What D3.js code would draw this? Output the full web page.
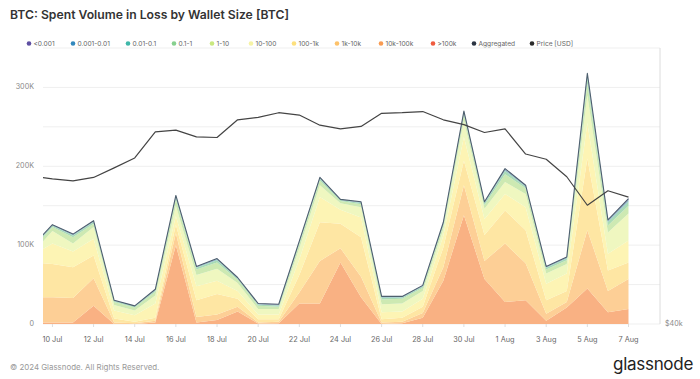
<!DOCTYPE html>
<html><head><meta charset="utf-8">
<script src="https://cdn.jsdelivr.net/npm/d3@7"></script>
<style>
html,body{margin:0;padding:0;background:#fff;}
svg{display:block;font-family:Inter,"Noto Sans",sans-serif;}
</style></head>
<body><svg id="chart" width="700" height="379"></svg>
<script>
// Dates (daily, 2024); first point lies just left of the visible window
const dates = ["2024-07-09","2024-07-10","2024-07-11","2024-07-12","2024-07-13","2024-07-14","2024-07-15","2024-07-16","2024-07-17","2024-07-18","2024-07-19","2024-07-20","2024-07-21","2024-07-22","2024-07-23","2024-07-24","2024-07-25","2024-07-26","2024-07-27","2024-07-28","2024-07-29","2024-07-30","2024-07-31","2024-08-01","2024-08-02","2024-08-03","2024-08-04","2024-08-05","2024-08-06","2024-08-07"];

// Spent volume in loss, thousand BTC, per wallet size cohort
const vol_gt100k   = [0,0,0,0,0,0,0,0,0,0,0,0,0,0,0,0,0,0,0,0,0,0,0,0,0,0,0,0,0,0];
const vol_10k_100k = [2,2,2,23,0,0,2,100,2,5,16,0.5,1,26,26,78,34,0,1,8,55,138,57,28,30,4,21,45,15,19];
const vol_1k_10k   = [32,32,31,35,2,1,2,15,7,7,6,1.5,2,14,54,18,26,2,2,6,17,38,23,74,47,9,7,74,27,38];
const vol_100_1k   = [44,42,39,29,5,2,4,11,21,26,10,4,3,22,49,31,50,4,5,8,25,31,33,42,42,17,14,91,26,21];
const vol_10_100   = [9,26,20,21,10,8,18,11,18,17,10,6,6,20,32,18,25,9,8,10,15,30,20,21,29,21,22,45,21,28];
const vol_1_10     = [2,16,10,15,7,6,10,13,14,15,10,7,7,14,15,8,13,10,10,10,8,21,13,15,17,13,12,35,27,34];
const vol_01_1     = [6,5,8,4,4,4,5,8,7,8,4,4,3,5,6,3,4,6,6,4,5,7,5,10,7,5,5,15,9,10];
const vol_001_01   = [1.6,1.6,2.2,2.2,1.1,1.1,1.6,2.8,2.2,2.8,1.6,1.6,1.6,2.2,2.2,1.1,1.6,2.2,1.6,1.6,2.2,2.8,2.2,3.9,2.2,2.2,2.2,7.2,3.9,5.0];
const vol_0001_001 = [0.9,0.9,1.2,1.2,0.6,0.6,0.9,1.5,1.2,1.5,0.9,0.9,0.9,1.2,1.2,0.6,0.9,1.2,0.9,0.9,1.2,1.5,1.2,2.1,1.2,1.2,1.2,3.9,2.1,2.7];
const vol_lt0001   = [0.5,0.5,0.6,0.6,0.3,0.3,0.5,0.7,0.6,0.7,0.5,0.5,0.5,0.6,0.6,0.3,0.5,0.6,0.5,0.5,0.6,0.7,0.6,1.0,0.6,0.6,0.6,1.9,1.0,1.3];

// BTC price, thousand USD
const price = [58.0,57.6,57.3,57.8,59.2,60.7,64.8,65.1,64.0,63.9,66.8,67.2,68.0,67.6,65.9,65.3,65.7,67.9,68.0,68.2,66.8,66.0,64.7,65.3,61.3,60.5,57.9,53.9,55.9,55.0];

// Series names (legend order) and colours
const seriesNames = ["<0.001","0.001-0.01","0.01-0.1","0.1-1","1-10","10-100","100-1k","1k-10k","10k-100k",">100k"];
const legendNames = seriesNames.concat(["Aggregated","Price [USD]"]);
const legendColors = ["#5e4fa2","#3288bd","#3fb7a9","#86d08e","#c9e87f","#f6f3a5","#fde07d","#fdc26a","#f99b52","#ef5b3f","#2b3442","#2a2a2a"];
const fillColors = ["#9a92c2","#8fc0c6","#a9dbb5","#cde9b2","#eff7c0","#fdf4b4","#fee6a3","#fdcf96","#f9b183","#f58d6a"];

// Axis ticks
const yTicks = [0,100,200,300];
const yGrid = [0,50,100,150,200,250,300,350];
const xTickDates = ["2024-07-10","2024-07-12","2024-07-14","2024-07-16","2024-07-18","2024-07-20","2024-07-22","2024-07-24","2024-07-26","2024-07-28","2024-07-30","2024-08-01","2024-08-03","2024-08-05","2024-08-07"];

const seriesValues = [vol_lt0001, vol_0001_001, vol_001_01, vol_01_1, vol_1_10, vol_10_100, vol_100_1k, vol_1k_10k, vol_10k_100k, vol_gt100k];

const parse = d3.utcParse("%Y-%m-%d");
const rows = dates.map((d,i)=>{
  const r = {date: parse(d), price: price[i]};
  seriesNames.forEach((n,j)=> r[n] = seriesValues[j][i]);
  return r;
});

const svg = d3.select("#chart");
const L = 43, R = 660, T = 48, B = 324;

const x = d3.scaleUtc()
  .domain([new Date(Date.UTC(2024,6,9,13,0)), new Date(Date.UTC(2024,7,8,12,45))])
  .range([L, R]);
const y = d3.scaleLinear().domain([0,350]).range([B, T]);
const yP = d3.scaleLog().domain([40,80]).range([B, T]);

// title
svg.append("text").attr("x",10).attr("y",19)
  .attr("font-size",12.2).attr("font-weight",600).attr("fill","#333")
  .text("BTC: Spent Volume in Loss by Wallet Size [BTC]");

// legend
const legX = [29,73,128,174,212,251,294,337,381,433,474,532];
legendNames.forEach((n,i)=>{
  const g = svg.append("g").attr("transform",`translate(${legX[i]},43.5)`);
  g.append("circle").attr("r",2.3).attr("fill",legendColors[i]);
  g.append("text").attr("x",4.5).attr("y",2.4).attr("font-size",6.6).attr("fill","#666").text(n);
});

// grid
svg.append("g").selectAll("line").data(yGrid).join("line")
  .attr("x1",L).attr("x2",R).attr("y1",d=>y(d)).attr("y2",d=>y(d))
  .attr("stroke","#efefef").attr("stroke-width",1);
svg.append("line").attr("x1",R).attr("x2",R).attr("y1",T).attr("y2",B)
  .attr("stroke","#dcdcdc");

// clip
svg.append("clipPath").attr("id","clip").append("rect")
  .attr("x",L).attr("y",0).attr("width",R-L).attr("height",B+1);

const stack = d3.stack().keys(seriesNames.slice().reverse());
const layers = stack(rows);
const area = d3.area().x(d=>x(d.data.date)).y0(d=>y(d[0])).y1(d=>y(d[1]));
const plot = svg.append("g").attr("clip-path","url(#clip)");
plot.selectAll("path.layer").data(layers).join("path")
  .attr("class","layer")
  .attr("fill",d=>fillColors[seriesNames.indexOf(d.key)])
  .attr("d",area);

// aggregated line
const total = layers[layers.length-1];
plot.append("path").datum(total)
  .attr("fill","none").attr("stroke","#4d5f6e").attr("stroke-width",1.1)
  .attr("stroke-linejoin","round")
  .attr("d",d3.line().x(d=>x(d.data.date)).y(d=>y(d[1])));

// price line
plot.append("path").datum(rows)
  .attr("fill","none").attr("stroke","#444").attr("stroke-width",1.2)
  .attr("stroke-linejoin","round")
  .attr("d",d3.line().x(d=>x(d.date)).y(d=>yP(d.price)));

// left axis labels
svg.append("g").selectAll("text").data(yTicks).join("text")
  .attr("x",34).attr("y",d=>y(d)+1.5).attr("text-anchor","end")
  .attr("font-size",7.2).attr("fill","#8a8a8a")
  .text(d=> d===0 ? "0" : d+"K");

// right axis label
svg.append("text").attr("x",665).attr("y",yP(40)+1.5)
  .attr("font-size",7.2).attr("fill","#8a8a8a").text("$40k");

// x axis ticks + labels
const fmt = d3.utcFormat("%-d %b");
const xt = xTickDates.map(parse);
svg.append("g").selectAll("line").data(xt).join("line")
  .attr("x1",d=>x(d)).attr("x2",d=>x(d)).attr("y1",B).attr("y2",B+3)
  .attr("stroke","#ddd");
svg.append("g").selectAll("text").data(xt).join("text")
  .attr("x",d=>x(d)).attr("y",341.5).attr("text-anchor","middle")
  .attr("font-size",7.3).attr("fill","#666").text(d=>fmt(d));

// footer
svg.append("text").attr("x",10).attr("y",369.5)
  .attr("font-size",7.9).attr("fill","#999")
  .text("© 2024 Glassnode. All Rights Reserved.");
svg.append("text").attr("x",693).attr("y",369.5).attr("text-anchor","end")
  .attr("font-size",17).attr("font-weight",400).attr("fill","#222")
  .attr("letter-spacing",-0.3)
  .text("glassnode");
</script></body></html>
